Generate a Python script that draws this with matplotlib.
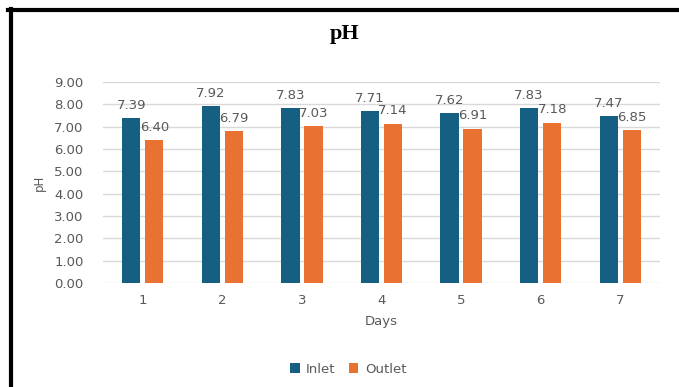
import numpy as np
import matplotlib.pyplot as plt
from matplotlib.lines import Line2D

days = ['1', '2', '3', '4', '5', '6', '7']
inlet = [7.39, 7.92, 7.83, 7.71, 7.62, 7.83, 7.47]
outlet = [6.40, 6.79, 7.03, 7.14, 6.91, 7.18, 6.85]

blue = '#156082'
orange = '#E97132'
grey = '#595959'

fig = plt.figure(figsize=(6.79, 3.87), dpi=100)
ax = fig.add_axes([0.1517, 0.2687, 0.8203, 0.5193])

x = np.arange(len(days))
w = 0.23
b1 = ax.bar(x - 0.145, inlet, w, color=blue, label='Inlet', zorder=3)
b2 = ax.bar(x + 0.145, outlet, w, color=orange, label='Outlet', zorder=3)

# value labels above each bar
for bars, vals in ((b1, inlet), (b2, outlet)):
    for r, v in zip(bars, vals):
        ax.text(r.get_x() + r.get_width() / 2, v + 0.28, f'{v:.2f}',
                ha='center', va='bottom', fontsize=9.5, color=grey, zorder=4)

ax.set_xlim(-0.5, 6.5)
ax.set_ylim(0, 9)
ax.set_yticks(np.arange(0, 10, 1))
ax.set_yticklabels([f'{t:.2f}' for t in range(10)])
ax.set_xticks(x)
ax.set_xticklabels(days)
ax.tick_params(length=0, colors=grey, labelsize=9.5)
ax.tick_params(axis='y', pad=14)
ax.tick_params(axis='x', pad=8)
ax.grid(axis='y', color='#d9d9d9', linewidth=1, zorder=0)
for s in ax.spines.values():
    s.set_visible(False)

ax.set_xlabel('Days', fontsize=9.5, color=grey, labelpad=6)
ax.set_ylabel('pH', fontsize=8.5, color=grey, labelpad=6)

fig.text(0.508, 0.912, 'pH', ha='center', va='center', fontsize=16,
         fontweight='bold', family='Liberation Serif')

fig.legend(handles=[b1, b2], loc='center', bbox_to_anchor=(0.513, 0.046),
           ncol=2, frameon=False, fontsize=9.5, handlelength=0.7,
           handleheight=0.7, columnspacing=1.0, handletextpad=0.5,
           labelcolor=grey)

# frame lines along top and left edge
fig.add_artist(Line2D([0.012, 1.0], [0.974, 0.974], color='black', linewidth=3,
                      transform=fig.transFigure))
fig.add_artist(Line2D([0.0155, 0.0155], [0.0, 0.978], color='black', linewidth=3,
                      transform=fig.transFigure))

fig.savefig('out.png', dpi=100)
